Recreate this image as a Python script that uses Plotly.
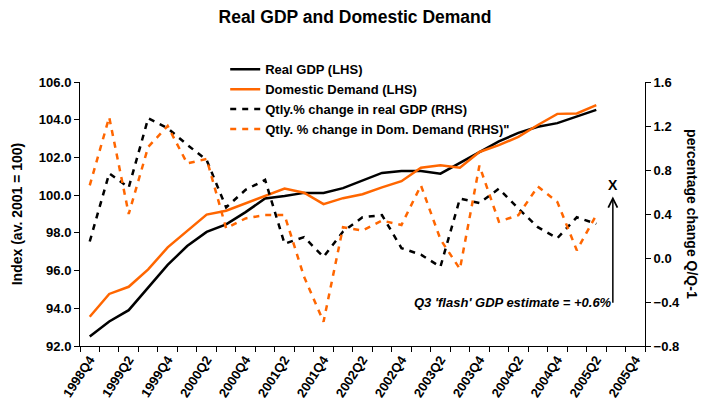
import plotly.graph_objects as go

quarters = ["1998Q4", "1999Q1", "1999Q2", "1999Q3", "1999Q4", "2000Q1", "2000Q2", "2000Q3",
            "2000Q4", "2001Q1", "2001Q2", "2001Q3", "2001Q4", "2002Q1", "2002Q2", "2002Q3",
            "2002Q4", "2003Q1", "2003Q2", "2003Q3", "2003Q4", "2004Q1", "2004Q2", "2004Q3",
            "2004Q4", "2005Q1", "2005Q2", "2005Q3", "2005Q4"]
data_quarters = quarters[:27]

real_gdp = [92.5, 93.3, 93.9, 95.1, 96.3, 97.3, 98.05, 98.45, 99.1, 99.82, 99.95, 100.12, 100.12,
            100.37, 100.76, 101.18, 101.28, 101.28, 101.14, 101.7, 102.25, 102.85, 103.3, 103.63,
            103.82, 104.16, 104.52]
dom_demand = [93.55, 94.76, 95.14, 96.06, 97.23, 98.11, 98.97, 99.17, 99.56, 99.97, 100.35, 100.13,
              99.52, 99.84, 100.05, 100.41, 100.74, 101.45, 101.59, 101.45, 102.29, 102.65, 103.09,
              103.72, 104.31, 104.33, 104.77]
gdp_qq = [0.15, 0.77, 0.64, 1.27, 1.18, 1.03, 0.89, 0.46, 0.62, 0.71, 0.13, 0.19, 0.01, 0.24, 0.37,
          0.39, 0.09, 0.03, -0.08, 0.54, 0.50, 0.63, 0.45, 0.28, 0.18, 0.37, 0.31]
dd_qq = [0.66, 1.28, 0.40, 1.01, 1.20, 0.86, 0.90, 0.27, 0.36, 0.39, 0.39, -0.17, -0.58, 0.28, 0.25,
         0.34, 0.30, 0.66, 0.17, -0.10, 0.84, 0.33, 0.39, 0.65, 0.51, 0.07, 0.39]

tick_text = [q if i % 2 == 0 else "" for i, q in enumerate(quarters)]

ORANGE = "#FF6600"
FONT = "Arial, Liberation Sans, sans-serif"

fig = go.Figure()
fig.add_trace(go.Scatter(x=data_quarters, y=real_gdp, name="Real GDP (LHS)", mode="lines",
                         line=dict(color="black", width=2.5)))
fig.add_trace(go.Scatter(x=data_quarters, y=dom_demand, name="Domestic Demand (LHS)", mode="lines",
                         line=dict(color=ORANGE, width=2.5)))
fig.add_trace(go.Scatter(x=data_quarters, y=gdp_qq, name="Qtly.% change in real GDP (RHS)",
                         mode="lines", yaxis="y2",
                         line=dict(color="black", width=2.5, dash="6px,6px")))
fig.add_trace(go.Scatter(x=data_quarters, y=dd_qq, name='Qtly. % change in Dom. Demand (RHS)"',
                         mode="lines", yaxis="y2",
                         line=dict(color=ORANGE, width=2.5, dash="6px,6px")))

tickfont = dict(family=FONT, size=13, color="black", weight="bold")

fig.update_layout(
    width=710, height=404,
    margin=dict(l=80, r=65, t=82, b=58, autoexpand=False),
    paper_bgcolor="white", plot_bgcolor="white",
    font=dict(family=FONT, color="black"),
    title=dict(text="<b>Real GDP and Domestic Demand</b>", x=0.5, xanchor="center",
               y=0.958, yanchor="middle", font=dict(family=FONT, size=17.5, color="black")),
    showlegend=True,
    legend=dict(x=0.257, xanchor="left", y=1.105, yanchor="top", bgcolor="rgba(0,0,0,0)",
                font=dict(family=FONT, size=13, color="black", weight="bold"),
                tracegroupgap=0),
    xaxis=dict(type="category", categoryorder="array", categoryarray=quarters,
               range=[-0.5, 28.5], tickvals=quarters, ticktext=tick_text,
               tickson="boundaries", ticks="outside", ticklen=5, tickcolor="black",
               showline=True, linecolor="black", linewidth=1, showgrid=False,
               tickangle=-57, tickfont=tickfont, automargin=False, zeroline=False),
    yaxis=dict(range=[92, 106], dtick=2, tickformat=".1f", ticks="outside", ticklen=5,
               tickcolor="black", showline=True, linecolor="black", linewidth=1,
               showgrid=False, zeroline=False, tickfont=tickfont, automargin=False,
               title=dict(text="<b>Index (av. 2001 = 100)</b>",
                          font=dict(family=FONT, size=14, color="black"), standoff=12)),
    yaxis2=dict(range=[-0.8, 1.6], dtick=0.4, tickformat=".1f", ticks="outside", ticklen=5,
                tickcolor="black", showline=True, linecolor="black", linewidth=1,
                showgrid=False, zeroline=False, tickfont=tickfont, overlaying="y",
                side="right", automargin=False),
)

fig.add_annotation(text="<b>percentage change Q/Q-1</b>", xref="paper", yref="paper",
                   x=1.083, y=0.5, xanchor="center", yanchor="middle", textangle=90,
                   showarrow=False, font=dict(family=FONT, size=14, color="black"))
fig.add_annotation(text="<b><i>Q3 'flash' GDP estimate = +0.6%</i></b>", xref="paper",
                   yref="paper", x=0.945, y=0.163, xanchor="right", yanchor="middle",
                   showarrow=False, font=dict(family=FONT, size=13, color="black"))
fig.add_annotation(text="", xref="x", yref="y2", x=26.85, y=0.56, axref="x", ayref="y2",
                   ax=26.85, ay=-0.42, showarrow=True, arrowhead=5, arrowsize=1.2,
                   arrowwidth=1.5, arrowcolor="black")
fig.add_annotation(text="<b>X</b>", xref="x", yref="y2", x=26.85, y=0.66, showarrow=False,
                   font=dict(family=FONT, size=14, color="black"))

fig.write_html("out.html", config={"displayModeBar": False},
               post_script="document.body.style.margin='0';")
